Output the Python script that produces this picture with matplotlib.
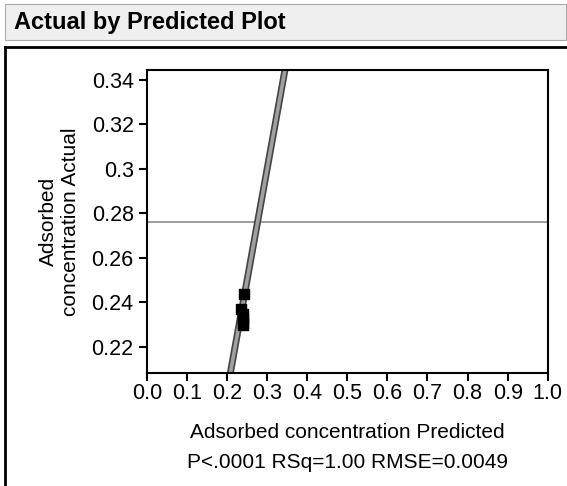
import matplotlib.pyplot as plt
from matplotlib.patches import Rectangle
from matplotlib.lines import Line2D

plt.rcParams['font.family'] = ['Liberation Sans', 'DejaVu Sans']

# data
predicted = [0.243, 0.235, 0.240, 0.241, 0.240, 0.241]
actual = [0.244, 0.237, 0.235, 0.233, 0.231, 0.230]
fit_x = [0.0, 1.0]
fit_y = [0.0, 1.0]
mean_actual = 0.2762
x_ticks = [0.0, 0.1, 0.2, 0.3, 0.4, 0.5, 0.6, 0.7, 0.8, 0.9, 1.0]
y_ticks = [0.22, 0.24, 0.26, 0.28, 0.30, 0.32, 0.34]
y_tick_labels = ['0.22', '0.24', '0.26', '0.28', '0.3', '0.32', '0.34']

fig = plt.figure(figsize=(5.67, 4.86), dpi=100)

# header bar
fig.patches.append(Rectangle((0.009, 0.918), 0.99, 0.074, transform=fig.transFigure,
                             facecolor='#efefef', edgecolor='#aaaaaa', lw=0.8))
fig.text(0.025, 0.953, 'Actual by Predicted Plot', fontsize=17, fontweight='bold', va='center')

# outer frame lines
fig.add_artist(Line2D([0.009, 1.0], [0.903, 0.903], transform=fig.transFigure, color='black', lw=2))
fig.add_artist(Line2D([0.009, 0.009], [0.0, 0.903], transform=fig.transFigure, color='black', lw=2))

ax = fig.add_axes([0.259, 0.2325, 0.707, 0.6235])

ax.plot(fit_x, fit_y, color='#444444', lw=5, solid_capstyle='butt', zorder=2)
ax.plot(fit_x, fit_y, color='#a0a0a0', lw=2.6, solid_capstyle='butt', zorder=2)
ax.axhline(mean_actual, color='#8c8c8c', lw=1.2, zorder=1)
ax.scatter(predicted, actual, marker='s', s=45, color='black', zorder=3)

ax.set_xlim(0.0, 1.0)
ax.set_ylim(0.2083, 0.3445)
ax.set_xticks(x_ticks)
ax.set_xticklabels([f'{v:.1f}' for v in x_ticks])
ax.set_yticks(y_ticks)
ax.set_yticklabels(y_tick_labels)
ax.tick_params(direction='out', length=6, width=1.5, labelsize=15.5)
ax.tick_params(axis='x', pad=1)
for s in ax.spines.values():
    s.set_linewidth(1.5)

ax.set_xlabel('Adsorbed concentration Predicted\nP<.0001 RSq=1.00 RMSE=0.0049',
              fontsize=15, linespacing=1.75, labelpad=14)
ax.set_ylabel('Adsorbed\nconcentration Actual', fontsize=15, labelpad=8)

fig.savefig('out.png', dpi=100)
